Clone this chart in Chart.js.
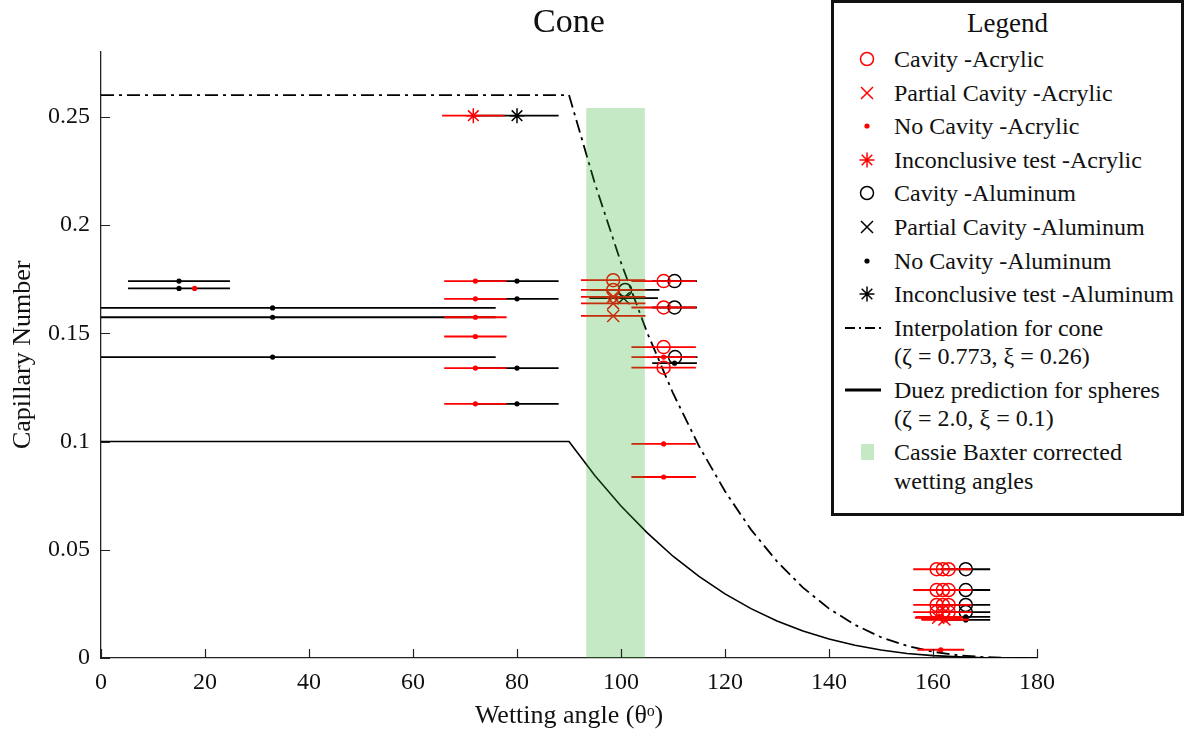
<!DOCTYPE html>
<html>
<head>
<meta charset="utf-8">
<script src="https://cdn.jsdelivr.net/npm/chart.js@4.4.0/dist/chart.umd.min.js"></script>
<style>
  html, body { margin: 0; padding: 0; background: #fff; }
  #wrap { position: relative; width: 1185px; height: 735px; }
  #legend {
    position: absolute; left: 831px; top: 0px; width: 353px; height: 516px;
    box-sizing: border-box; border: 3px solid #111; background: #fff;
    font-family: "Liberation Serif", "Times New Roman", serif; color: #111;
  }
  #legend .ttl { position: absolute; left: 0; width: 100%; text-align: center; font-size: 27px; line-height: 30px; }
  #legend .ln { position: absolute; left: 60px; font-size: 24px; line-height: 28px; white-space: nowrap; }
  #legend svg { position: absolute; left: 7px; }
</style>
</head>
<body>
<div id="wrap">
  <canvas id="chart" width="1185" height="735"></canvas>
  <div id="legend"></div>
</div>
<script>
// ---- data ----
// acrylic (red)
const cavAcrTheta = [98.5, 98.5, 108.2, 108.2, 108.2, 108.2, 160.7, 161.9, 163.0, 160.7, 161.9, 163.0, 160.7, 161.9, 163.0, 160.7, 161.9, 163.0];
const cavAcrCa    = [0.1745, 0.170, 0.1741, 0.1619, 0.1436, 0.1341, 0.041, 0.041, 0.041, 0.0314, 0.0314, 0.0314, 0.0245, 0.0245, 0.0245, 0.0212, 0.0212, 0.0212];
const cavAcrErr   = [6.2, 6.2, 6.2, 6.2, 6.2, 6.2, 4.5, 4.5, 4.5, 4.5, 4.5, 4.5, 4.5, 4.5, 4.5, 4.5, 4.5, 4.5];

const partAcrTheta = [98.5, 98.5, 98.5, 161.0, 162.2];
const partAcrCa    = [0.1668, 0.1638, 0.158, 0.0186, 0.0178];
const partAcrErr   = [6.2, 6.2, 6.2, 4.5, 4.5];

const noAcrTheta = [18, 72, 72, 72, 72, 72, 72, 108.2, 108.2, 108.2, 161.5, 161.2, 162.4];
const noAcrCa    = [0.1707, 0.1741, 0.1659, 0.1574, 0.1485, 0.1339, 0.1174, 0.139, 0.0989, 0.0836, 0.0038, 0.019, 0.0176];
const noAcrErr   = [0, 6, 6, 6, 6, 6, 6, 6.2, 6.2, 6.2, 4.5, 4.5, 4.5];

const incAcrTheta = [71.6];
const incAcrCa    = [0.2505];
const incAcrErr   = [6];

// aluminum (black)
const cavAlTheta = [100.8, 110.3, 110.3, 110.4, 166.3, 166.3, 166.3, 166.3];
const cavAlCa    = [0.170, 0.1741, 0.1619, 0.139, 0.041, 0.0314, 0.0245, 0.0212];
const cavAlErr   = [6.6, 4.3, 4.3, 4.3, 4.7, 4.7, 4.7, 4.7];

const partAlTheta = [100.5];
const partAlCa    = [0.1662];
const partAlErr   = [6.6];

const noAlTheta = [15, 15, 33, 33, 33, 80, 80, 80, 80, 110.3, 166.3, 166.3];
const noAlCa    = [0.1741, 0.1707, 0.1617, 0.1574, 0.139, 0.1741, 0.1659, 0.1339, 0.1174, 0.1362, 0.019, 0.0176];
const noAlErr   = [9.8, 9.8, 42.9, 42.9, 42.9, 8, 8, 8, 8, 4.3, 4.7, 4.7];

const incAlTheta = [80];
const incAlCa    = [0.2505];
const incAlErr   = [8];

// model curves
const curveTheta = [0, 90, 95, 100, 105, 110, 115, 120, 125, 130, 135, 140, 145, 150, 155, 160, 165, 170, 175, 180];
const coneCa     = [0.26, 0.26, 0.219, 0.1826, 0.1505, 0.1223, 0.0979, 0.077, 0.0593, 0.0446, 0.0325, 0.0228, 0.0153, 0.0096, 0.0056, 0.0029, 0.0012, 0.0004, 0, 0];
const sphereCa   = [0.1, 0.1, 0.0842, 0.0702, 0.0579, 0.047, 0.0377, 0.0296, 0.0228, 0.0171, 0.0125, 0.0088, 0.0059, 0.0037, 0.0021, 0.0011, 0.0005, 0.0001, 0, 0];

// Cassie Baxter band
const bandTheta = [93.3, 104.6];
const bandTop = 0.254;

const xTicks = [0, 20, 40, 60, 80, 100, 120, 140, 160, 180];
const yTicks = [0, 0.05, 0.1, 0.15, 0.2, 0.25];

const SERIF = '"Liberation Serif", "Times New Roman", serif';
const RED = '#ff0000';
const BLACK = '#000000';
const BAND = 'rgba(40,170,40,0.27)';

function pts(xs, ys) {
  return xs.map((x, i) => ({ x: x, y: ys[i] }));
}

// marker styles
function markerSet(label, xs, ys, err, color, kind, order) {
  const ds = { label: label, data: pts(xs, ys), errX: err, barColor: color, showLine: false, order: order,
               borderColor: color, backgroundColor: 'rgba(0,0,0,0)', pointBorderWidth: 1.5 };
  if (kind === 'o') { ds.pointStyle = 'circle'; ds.pointRadius = 6.5; }
  if (kind === 'x') { ds.pointStyle = 'crossRot'; ds.pointRadius = 8.5; }
  if (kind === '.') { ds.pointStyle = 'circle'; ds.pointRadius = 2.6; ds.backgroundColor = color; ds.pointBorderWidth = 0; }
  if (kind === '*') { ds.pointStyle = 'star'; ds.pointRadius = 7.5; }
  return ds;
}

const datasets = [
  { type: 'line', label: 'Cassie Baxter corrected wetting angles', data: bandTheta.map(x => ({ x: x, y: bandTop })),
    fill: 'origin', backgroundColor: BAND, borderWidth: 0, pointRadius: 0, order: 0 },
  markerSet('Cavity -Acrylic', cavAcrTheta, cavAcrCa, cavAcrErr, RED, 'o', 1),
  markerSet('Partial Cavity -Acrylic', partAcrTheta, partAcrCa, partAcrErr, RED, 'x', 2),
  markerSet('No Cavity -Acrylic', noAcrTheta, noAcrCa, noAcrErr, RED, '.', 3),
  markerSet('Inconclusive test -Acrylic', incAcrTheta, incAcrCa, incAcrErr, RED, '*', 4),
  markerSet('Cavity -Aluminum', cavAlTheta, cavAlCa, cavAlErr, BLACK, 'o', 5),
  markerSet('Partial Cavity -Aluminum', partAlTheta, partAlCa, partAlErr, BLACK, 'x', 6),
  markerSet('No Cavity -Aluminum', noAlTheta, noAlCa, noAlErr, BLACK, '.', 7),
  markerSet('Inconclusive test -Aluminum', incAlTheta, incAlCa, incAlErr, BLACK, '*', 8),
  { type: 'line', label: 'Interpolation for cone', data: pts(curveTheta, coneCa), borderColor: BLACK, borderWidth: 1.8,
    borderDash: [13, 5, 3, 5], pointRadius: 0, tension: 0, fill: false, order: 9 },
  { type: 'line', label: 'Duez prediction for spheres', data: pts(curveTheta, sphereCa), borderColor: BLACK, borderWidth: 1.6,
    pointRadius: 0, tension: 0, fill: false, order: 10 }
];

// horizontal error bars, drawn just before each series' markers
const errorBars = {
  id: 'errorBars',
  beforeDatasetDraw(chart, args) {
    const ds = chart.data.datasets[args.index];
    if (!ds.errX) return;
    const xs = chart.scales.x, ys = chart.scales.y, a = chart.chartArea;
    const ctx = chart.ctx;
    ctx.save();
    ctx.beginPath();
    ctx.rect(a.left, a.top, a.right - a.left, a.bottom - a.top);
    ctx.clip();
    ctx.strokeStyle = ds.barColor;
    ctx.lineWidth = 1.8;
    ctx.beginPath();
    ds.data.forEach((p, i) => {
      const e = ds.errX[i];
      if (!e) return;
      const y = ys.getPixelForValue(p.y);
      ctx.moveTo(xs.getPixelForValue(p.x - e), y);
      ctx.lineTo(xs.getPixelForValue(p.x + e), y);
    });
    ctx.stroke();
    ctx.restore();
  }
};

// matlab style ticks pointing inwards
const innerTicks = {
  id: 'innerTicks',
  afterDraw(chart) {
    const xs = chart.scales.x, ys = chart.scales.y, a = chart.chartArea;
    const ctx = chart.ctx;
    ctx.save();
    ctx.strokeStyle = '#222';
    ctx.lineWidth = 1.2;
    ctx.beginPath();
    xTicks.forEach(v => {
      const x = Math.round(xs.getPixelForValue(v)) + 0.5;
      ctx.moveTo(x, a.bottom);
      ctx.lineTo(x, a.bottom - 9);
    });
    yTicks.forEach(v => {
      const y = Math.round(ys.getPixelForValue(v)) + 0.5;
      ctx.moveTo(a.left, y);
      ctx.lineTo(a.left + 9, y);
    });
    ctx.stroke();
    ctx.restore();
  }
};

const tickFont = { family: SERIF, size: 24 };
const titleFont = { family: SERIF, size: 26 };

new Chart(document.getElementById('chart'), {
  type: 'scatter',
  data: { datasets: datasets },
  options: {
    responsive: false,
    animation: false,
    events: [],
    layout: { padding: { top: 0, right: 148, bottom: 0, left: 0 } },
    plugins: {
      legend: { display: false },
      tooltip: { enabled: false },
      title: {
        display: true, text: 'Cone', fullSize: false, color: '#111',
        font: { family: SERIF, size: 34, weight: 'normal' },
        padding: { top: 3, bottom: 8 }
      }
    },
    scales: {
      x: {
        type: 'linear', min: 0, max: 180,
        afterBuildTicks: s => { s.ticks = xTicks.map(v => ({ value: v })); },
        afterFit: s => { s.height = 77; },
        grid: { display: false, drawTicks: false },
        border: { display: true, color: '#222', width: 1.3 },
        ticks: { font: tickFont, color: '#111', padding: 10, maxRotation: 0 },
        title: { display: true, text: 'Wetting angle (θᵒ)', font: titleFont, color: '#111', padding: { top: 3, bottom: 3 } }
      },
      y: {
        type: 'linear', min: 0, max: 0.28,
        afterBuildTicks: s => { s.ticks = yTicks.map(v => ({ value: v })); },
        afterFit: s => { s.width = 101; },
        grid: { display: false, drawTicks: false },
        border: { display: true, color: '#222', width: 1.3 },
        ticks: { font: tickFont, color: '#111', padding: 11, callback: v => String(+v.toFixed(2)) },
        title: { display: true, text: 'Capillary Number', font: titleFont, color: '#111', padding: { top: 8, bottom: 8 } }
      }
    }
  },
  plugins: [errorBars, innerTicks]
});

// ---- legend box ----
const legendItems = [
  { lines: ['Cavity -Acrylic'], sym: 'o', color: RED },
  { lines: ['Partial Cavity -Acrylic'], sym: 'x', color: RED },
  { lines: ['No Cavity -Acrylic'], sym: '.', color: RED },
  { lines: ['Inconclusive test -Acrylic'], sym: '*', color: RED },
  { lines: ['Cavity -Aluminum'], sym: 'o', color: BLACK },
  { lines: ['Partial Cavity -Aluminum'], sym: 'x', color: BLACK },
  { lines: ['No Cavity -Aluminum'], sym: '.', color: BLACK },
  { lines: ['Inconclusive test -Aluminum'], sym: '*', color: BLACK },
  { lines: ['Interpolation for cone', '(ζ = 0.773, ξ = 0.26)'], sym: '-.', color: BLACK },
  { lines: ['Duez prediction for spheres', '(ζ = 2.0, ξ = 0.1)'], sym: '-', color: BLACK },
  { lines: ['Cassie Baxter corrected', 'wetting angles'], sym: 'patch', color: BAND }
];

function symbolSvg(sym, c) {
  let inner = '';
  if (sym === 'o') inner = `<circle cx="26" cy="14" r="6.5" fill="none" stroke="${c}" stroke-width="1.5"/>`;
  if (sym === 'x') inner = `<path d="M20 8 L32 20 M32 8 L20 20" stroke="${c}" stroke-width="1.5"/>`;
  if (sym === '.') inner = `<circle cx="26" cy="14" r="2.6" fill="${c}"/>`;
  if (sym === '*') inner = `<path d="M18.5 14 H33.5 M26 6.5 V21.5 M20.7 8.7 L31.3 19.3 M31.3 8.7 L20.7 19.3" stroke="${c}" stroke-width="1.5"/>`;
  if (sym === '-.') inner = `<path d="M4 14 H40" stroke="${c}" stroke-width="2.2" stroke-dasharray="10 4 2 4"/>`;
  if (sym === '-') inner = `<path d="M4 14 H40" stroke="${c}" stroke-width="3"/>`;
  if (sym === 'patch') inner = `<rect x="20" y="6" width="13" height="16" fill="${c}"/>`;
  return `<svg width="44" height="28" viewBox="0 0 44 28">${inner}</svg>`;
}

const legendEl = document.getElementById('legend');
let html = `<div class="ttl" style="top:5px">Legend</div>`;
let y = 56; // centre of first entry, relative to the box
legendItems.forEach(item => {
  html += symbolSvg(item.sym, item.color).replace('<svg ', `<svg style="top:${y - 14}px" `);
  item.lines.forEach((t, k) => {
    html += `<div class="ln" style="top:${y - 14 + k * 28.5}px">${t}</div>`;
  });
  y += 33.6 + (item.lines.length - 1) * 28.5;
});
legendEl.innerHTML = html;
</script>
</body>
</html>
